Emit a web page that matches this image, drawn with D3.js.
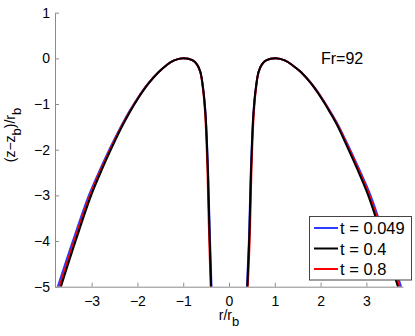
<!DOCTYPE html>
<html>
<head>
<meta charset="utf-8">
<script src="https://cdn.jsdelivr.net/npm/d3@7"></script>
<style>
  body { margin: 0; background: #fff; }
  svg { display: block; font-family: "Liberation Sans", Arial, sans-serif; }
</style>
</head>
<body>
<svg id="chart" width="415" height="336"></svg>
<script>
// path runs from the outer foot, over the crest, down to the inner foot
const zPath = [-5, -4, -3, -2.4, -2, -1.5, -1.2, -0.9, -0.55, -0.3, -0.15, -0.05, 0,
               -0.04, -0.13, -0.3, -0.7, -1.2, -1.8, -2.4, -3, -4, -5];

const rLeft049 = [-3.74, -3.41, -3.06, -2.80, -2.615, -2.365, -2.20, -2.015, -1.765, -1.535, -1.365, -1.21, -1.0,
                  -0.80, -0.70, -0.625, -0.56, -0.513, -0.482, -0.459, -0.442, -0.414, -0.382];
const rLeft04  = [-3.67, -3.35, -3.01, -2.76, -2.58, -2.34, -2.18, -2.00, -1.755, -1.535, -1.365, -1.21, -1.0,
                  -0.80, -0.70, -0.625, -0.56, -0.515, -0.485, -0.463, -0.447, -0.42, -0.39];
const rLeft08  = [-3.705, -3.38, -3.035, -2.78, -2.598, -2.353, -2.19, -2.008, -1.76, -1.535, -1.365, -1.21, -1.0,
                  -0.80, -0.70, -0.627, -0.565, -0.522, -0.493, -0.472, -0.457, -0.431, -0.40];

const rRight049 = [3.76, 3.43, 3.09, 2.83, 2.645, 2.405, 2.235, 2.05, 1.80, 1.57, 1.385, 1.23, 1.02,
                   0.82, 0.72, 0.645, 0.58, 0.533, 0.502, 0.479, 0.462, 0.434, 0.392];
const rRight04  = [3.69, 3.37, 3.04, 2.79, 2.61, 2.38, 2.215, 2.035, 1.79, 1.57, 1.385, 1.23, 1.02,
                   0.82, 0.72, 0.645, 0.58, 0.535, 0.505, 0.483, 0.467, 0.44, 0.40];
const rRight08  = [3.725, 3.40, 3.065, 2.81, 2.628, 2.393, 2.225, 2.043, 1.795, 1.57, 1.385, 1.23, 1.02,
                   0.82, 0.72, 0.647, 0.585, 0.542, 0.513, 0.492, 0.477, 0.451, 0.41];

const legendLabels = ['t = 0.049', 't = 0.4', 't = 0.8'];
const seriesColors = ['#2b3bff', '#000000', '#ff0000'];
const xTicks = [-3, -2, -1, 0, 1, 2, 3];
const yTicks = [-5, -4, -3, -2, -1, 0, 1];

const svg = d3.select('#chart');

const x = d3.scaleLinear().domain([-3.8, 3.8]).range([55, 403]);
const y = d3.scaleLinear().domain([-5, 1]).range([286.7, 12.7]);

const fmt = d => d3.format('d')(d).replace('-', '\u2212');

svg.append('clipPath').attr('id', 'clip')
  .append('rect')
  .attr('x', 55).attr('y', 12.7)
  .attr('width', 348).attr('height', 274);

const series = [
  { name: legendLabels[0], color: seriesColors[0], left: rLeft049, right: rRight049 },
  { name: legendLabels[1], color: seriesColors[1], left: rLeft04,  right: rRight04 },
  { name: legendLabels[2], color: seriesColors[2], left: rLeft08,  right: rRight08 }
];

const line = d3.line()
  .x(d => x(d[0]))
  .y(d => y(d[1]))
  .curve(d3.curveCatmullRom.alpha(0.5));

const plotG = svg.append('g').attr('clip-path', 'url(#clip)');

// draw blue, red, then black on top
[0, 2, 1].forEach(i => {
  const s = series[i];
  [s.left, s.right].forEach(rs => {
    plotG.append('path')
      .datum(rs.map((r, k) => [r, zPath[k]]))
      .attr('fill', 'none')
      .attr('stroke', s.color)
      .attr('stroke-width', 2)
      .attr('d', line);
  });
});

// axes, ticks pointing inward
const xAxis = svg.append('g')
  .attr('transform', `translate(0,${y(-5)})`)
  .call(d3.axisBottom(x).tickValues(xTicks).tickFormat(fmt)
    .tickSizeInner(-4).tickSizeOuter(0).tickPadding(9));

const yAxis = svg.append('g')
  .attr('transform', `translate(${x(-3.8)},0)`)
  .call(d3.axisLeft(y).tickValues(yTicks).tickFormat(fmt)
    .tickSizeInner(-4).tickSizeOuter(0).tickPadding(5));

[xAxis, yAxis].forEach(a => {
  a.select('.domain').attr('stroke', '#8c8c8c');
  a.selectAll('.tick line').attr('stroke', '#8c8c8c');
  a.selectAll('.tick text').attr('fill', '#000').style('font-size', '14px');
});

// axis labels
const xl = svg.append('text')
  .attr('x', 229).attr('y', 320)
  .attr('text-anchor', 'middle')
  .style('font-size', '14px');
xl.append('tspan').text('r/r');
xl.append('tspan').attr('dy', 6).style('font-size', '13px').text('b');

const yl = svg.append('text')
  .attr('transform', 'translate(15,135) rotate(-90)')
  .attr('text-anchor', 'middle')
  .style('font-size', '14px');
yl.append('tspan').text('(z\u2212z');
yl.append('tspan').attr('dy', 6).style('font-size', '13px').text('b');
yl.append('tspan').attr('dy', -6).text(')/r');
yl.append('tspan').attr('dy', 6).style('font-size', '13px').text('b');

svg.append('text')
  .attr('x', 321).attr('y', 64)
  .style('font-size', '16px')
  .text('Fr=92');

// legend
const lg = svg.append('g');
lg.append('rect')
  .attr('x', 309.5).attr('y', 216.5)
  .attr('width', 102).attr('height', 63.5)
  .attr('fill', '#fff')
  .attr('stroke', '#444')
  .attr('stroke-width', 1);

const rowY = d3.scalePoint().domain(legendLabels).range([228, 269]);

series.forEach(s => {
  const cy = rowY(s.name);
  lg.append('line')
    .attr('x1', 314).attr('x2', 338)
    .attr('y1', cy).attr('y2', cy)
    .attr('stroke', s.color)
    .attr('stroke-width', 2);
  lg.append('text')
    .attr('x', 340).attr('y', cy + 6)
    .style('font-size', '16.5px')
    .text(s.name);
});
</script>
</body>
</html>
